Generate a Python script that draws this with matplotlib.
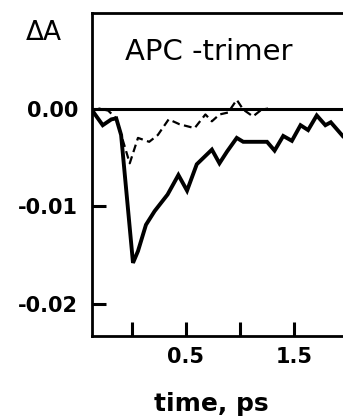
import matplotlib.pyplot as plt
import numpy as np

# solid trace (APC trimer), time in ps, dA
t_solid = [-0.36, -0.27, -0.19, -0.145, -0.10, 0.01, 0.056, 0.13, 0.21, 0.33, 0.43,
           0.51, 0.60, 0.74, 0.81, 0.88, 0.97, 1.03, 1.25, 1.32, 1.40, 1.48, 1.56,
           1.63, 1.71, 1.79, 1.84, 1.95]
a_solid = [-0.0003, -0.0017, -0.0011, -0.0010, -0.0027, -0.0158, -0.0146, -0.0119,
           -0.0105, -0.0088, -0.0068, -0.0084, -0.0057, -0.0042, -0.0056, -0.0044,
           -0.0030, -0.0034, -0.0034, -0.0043, -0.0028, -0.0033, -0.0017, -0.0022,
           -0.0007, -0.0017, -0.0014, -0.0028]

# dashed trace
t_dash = [-0.36, -0.30, -0.22, -0.145, -0.02, 0.056, 0.16, 0.24, 0.34, 0.44, 0.58,
          0.68, 0.74, 0.81, 0.89, 0.97, 1.03, 1.12, 1.20, 1.26]
a_dash = [-0.0002, 0.0000, -0.0002, -0.0010, -0.0056, -0.0030, -0.0034, -0.0027,
          -0.0011, -0.0016, -0.0020, -0.0006, -0.0013, -0.0006, -0.0004, 0.0009,
          -0.0001, -0.0008, -0.0001, 0.0000]

xticks = [0, 0.5, 1.0, 1.5]
xticklabels = ['', '0.5', '', '1.5']
yticks = [0.0, -0.01, -0.02]
yticklabels = ['0.00', '-0.01', '-0.02']

fig = plt.figure(figsize=(3.43, 4.17), dpi=100)
ax = fig.add_axes([0.268, 0.194, 0.732, 0.775])

ax.plot(t_solid, a_solid, color='black', lw=2.8, solid_joinstyle='miter')
ax.plot(t_dash, a_dash, color='black', lw=1.6, dashes=(3.5, 2))
ax.axhline(0, color='black', lw=2.2)

ax.set_xlim(-0.37, 1.953)
ax.set_ylim(-0.0233, 0.0098)

ax.spines['right'].set_visible(False)
for s in ['left', 'bottom', 'top']:
    ax.spines[s].set_linewidth(2.0)

ax.set_xticks(xticks)
ax.set_xticklabels(xticklabels, fontsize=15, fontweight='bold')
ax.set_yticks(yticks)
ax.set_yticklabels(yticklabels, fontsize=15, fontweight='bold')
ax.tick_params(axis='both', direction='in', length=10, width=2.2, pad=8)
ax.tick_params(axis='y', pad=10)

ax.text(0.13, 0.88, 'APC -trimer', transform=ax.transAxes, fontsize=21,
        ha='left', va='center')
fig.text(0.075, 0.921, '\u0394A', fontsize=19, ha='left', va='center')
fig.text(0.615, 0.03, 'time, ps', fontsize=18, fontweight='semibold',
         ha='center', va='center')

fig.savefig('out.png', dpi=100)
